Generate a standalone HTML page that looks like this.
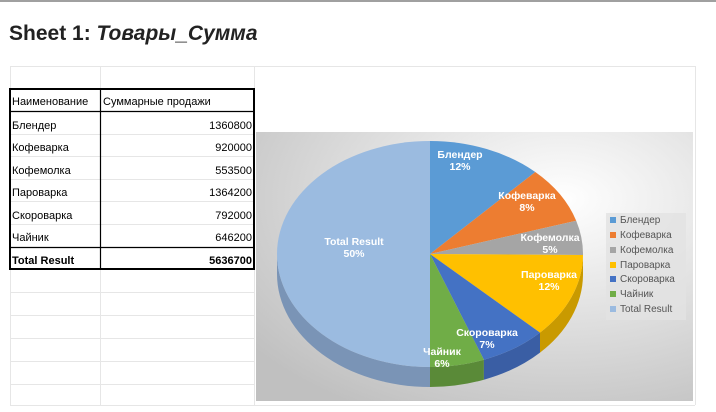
<!DOCTYPE html>
<html><head><meta charset="utf-8"><style>
body{margin:0;width:716px;height:412px;background:#fff;position:relative;overflow:hidden;font-family:"Liberation Sans","Noto Sans CJK SC",sans-serif}
.top{position:absolute;left:0;top:0;width:716px;height:2px;background:#a0a0a0}
h1{position:absolute;left:9px;top:22px;margin:0;font-size:21px;font-weight:bold;color:#222}
h1 i{font-style:italic}
.t{position:absolute;font-size:11px;color:#000;white-space:nowrap}
</style></head><body>
<div class="top"></div>
<h1>Sheet 1: <i>Товары_Сумма</i></h1>
<svg width="716" height="412" style="position:absolute;left:0;top:0">
<defs>
<radialGradient id="bg" cx="0.7" cy="0.25" r="0.9">
<stop offset="0" stop-color="#ffffff"/><stop offset="1" stop-color="#c0c0c0"/></radialGradient>
</defs>
<g stroke="#e6e6e6" stroke-width="1" fill="none">
<line x1="10" y1="66.5" x2="695" y2="66.5"/>
<line x1="10.5" y1="66" x2="10.5" y2="405"/>
<line x1="100.5" y1="66" x2="100.5" y2="405"/>
<line x1="254.5" y1="66" x2="254.5" y2="405"/>
<line x1="695.5" y1="66" x2="695.5" y2="405"/>
<line x1="10" y1="292.5" x2="254" y2="292.5"/>
<line x1="10" y1="315.5" x2="254" y2="315.5"/>
<line x1="10" y1="338.5" x2="254" y2="338.5"/>
<line x1="10" y1="361.5" x2="254" y2="361.5"/>
<line x1="10" y1="384.5" x2="254" y2="384.5"/>
<line x1="10" y1="405.5" x2="695" y2="405.5"/>
<line x1="10" y1="134.5" x2="254" y2="134.5"/>
<line x1="10" y1="156.5" x2="254" y2="156.5"/>
<line x1="10" y1="179.5" x2="254" y2="179.5"/>
<line x1="10" y1="201.5" x2="254" y2="201.5"/>
<line x1="10" y1="224.5" x2="254" y2="224.5"/>
</g>
<g stroke="#000" fill="none">
<rect x="10" y="89" width="244" height="180" stroke-width="2"/>
<line x1="10" y1="111.5" x2="254" y2="111.5" stroke-width="1.2"/>
<line x1="10" y1="247.5" x2="254" y2="247.5" stroke-width="1.2"/>
<line x1="100.5" y1="89" x2="100.5" y2="269" stroke-width="1.2"/>
</g>
<rect x="256" y="132" width="437" height="269" fill="url(#bg)"/>
<g>
<path d="M430,367 A153,113 0 0 1 277,254 L277,274 A153,113 0 0 0 430,387 Z" fill="#7a94b6"/>
<path d="M483.9,359.7 A153,113 0 0 1 430,367 L430,387 A153,113 0 0 0 483.9,379.7 Z" fill="#5a8a38"/>
<path d="M540,332.6 A153,113 0 0 1 483.9,359.7 L483.9,379.7 A153,113 0 0 0 540,352.6 Z" fill="#3a5ea4"/>
<path d="M583,255 A153,113 0 0 1 540,332.6 L540,352.6 A153,113 0 0 0 583,275 Z" fill="#c99a00"/>
<path d="M430,254 L430,141 A153,113 0 0 1 535.3,172 Z" fill="#5b9bd5"/>
<path d="M430,254 L535.3,172 A153,113 0 0 1 576.2,220.7 Z" fill="#ed7d31"/>
<path d="M430,254 L576.2,220.7 A153,113 0 0 1 583,255 Z" fill="#a5a5a5"/>
<path d="M430,254 L583,255 A153,113 0 0 1 540,332.6 Z" fill="#ffc000"/>
<path d="M430,254 L540,332.6 A153,113 0 0 1 483.9,359.7 Z" fill="#4472c4"/>
<path d="M430,254 L483.9,359.7 A153,113 0 0 1 430,367 Z" fill="#70ad47"/>
<path d="M430,254 L430,367 A153,113 0 0 1 430,141 Z" fill="#9bbbe0"/>
</g>
<g font-size="10.5" font-weight="bold" fill="#fff" text-anchor="middle" font-family="Liberation Sans, sans-serif">
<text x="460" y="158">Блендер</text><text x="460" y="170">12%</text>
<text x="527" y="199">Кофеварка</text><text x="527" y="211">8%</text>
<text x="550" y="241">Кофемолка</text><text x="550" y="253">5%</text>
<text x="549" y="278">Пароварка</text><text x="549" y="290">12%</text>
<text x="487" y="336">Скороварка</text><text x="487" y="348">7%</text>
<text x="442" y="355">Чайник</text><text x="442" y="367">6%</text>
<text x="354" y="245">Total Result</text><text x="354" y="257">50%</text>
</g>
<rect x="606" y="213" width="80" height="107" fill="#e2e2e2" opacity="0.8"/>
<g font-size="10" fill="#555">
<rect x="610" y="217" width="6" height="6" fill="#5b9bd5"/><text x="620" y="223">Блендер</text>
<rect x="610" y="232" width="6" height="6" fill="#ed7d31"/><text x="620" y="238">Кофеварка</text>
<rect x="610" y="247" width="6" height="6" fill="#a5a5a5"/><text x="620" y="253">Кофемолка</text>
<rect x="610" y="262" width="6" height="6" fill="#ffc000"/><text x="620" y="268">Пароварка</text>
<rect x="610" y="276" width="6" height="6" fill="#4472c4"/><text x="620" y="282">Скороварка</text>
<rect x="610" y="291" width="6" height="6" fill="#70ad47"/><text x="620" y="297">Чайник</text>
<rect x="610" y="306" width="6" height="6" fill="#9bbbe0"/><text x="620" y="312">Total Result</text>
</g>
</svg>
<div class="t" style="left:12px;top:96px">Наименование</div>
<div class="t" style="left:103px;top:96px">Суммарные продажи</div>
<div class="t" style="left:12px;top:120px">Блендер</div><div class="t" style="right:464px;top:120px">1360800</div>
<div class="t" style="left:12px;top:142px">Кофеварка</div><div class="t" style="right:464px;top:142px">920000</div>
<div class="t" style="left:12px;top:165px">Кофемолка</div><div class="t" style="right:464px;top:165px">553500</div>
<div class="t" style="left:12px;top:187px">Пароварка</div><div class="t" style="right:464px;top:187px">1364200</div>
<div class="t" style="left:12px;top:210px">Скороварка</div><div class="t" style="right:464px;top:210px">792000</div>
<div class="t" style="left:12px;top:232px">Чайник</div><div class="t" style="right:464px;top:232px">646200</div>
<div class="t" style="left:12px;top:255px;font-weight:bold">Total Result</div><div class="t" style="right:464px;top:255px;font-weight:bold">5636700</div>
</body></html>
